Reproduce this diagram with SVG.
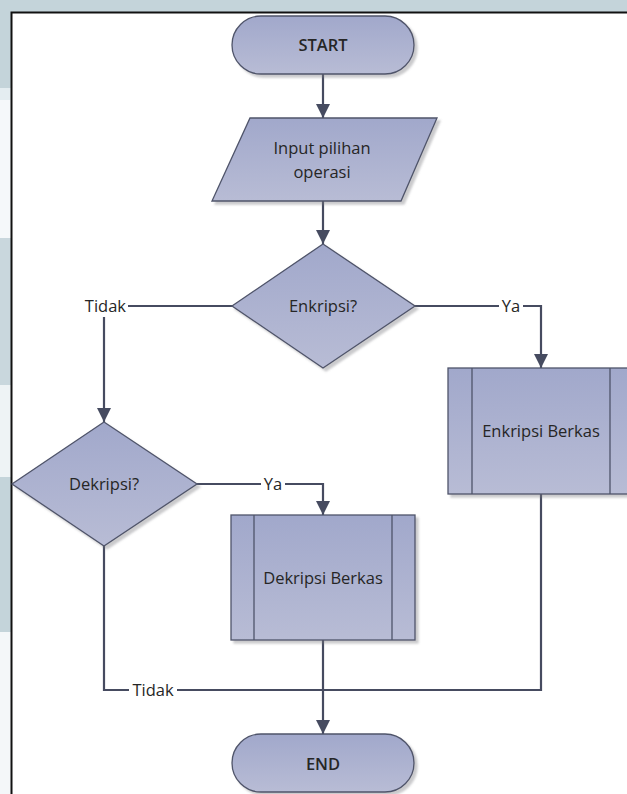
<svg xmlns="http://www.w3.org/2000/svg" width="627" height="794" viewBox="0 0 627 794">
  <defs>
    <linearGradient id="nodeFill" x1="0" y1="0" x2="0" y2="1">
      <stop offset="0" stop-color="#a1a8cb"/>
      <stop offset="1" stop-color="#b8bcd5"/>
    </linearGradient>
    <filter id="shadow" x="-10%" y="-10%" width="125%" height="130%">
      <feDropShadow dx="3" dy="3" stdDeviation="1.2" flood-color="#7a7a80" flood-opacity="0.4"/>
    </filter>
    <marker id="arrow" viewBox="0 0 14 14" refX="14" refY="7" markerWidth="14" markerHeight="14" markerUnits="userSpaceOnUse" orient="auto">
      <path d="M0,0 L14,7 L0,14 Z" fill="#464b60"/>
    </marker>
    <style>
      .node { fill: url(#nodeFill); stroke: #4f546a; stroke-width: 1.3; filter: url(#shadow); }
      .bar { stroke: #4f546a; stroke-width: 1.3; fill: none; }
      .label { font-family: "Open Sans", "Noto Sans", sans-serif; font-size: 16.5px; fill: #262626; text-anchor: middle; }
      .term { font-weight: 600; }
      .edge { fill: none; stroke: #464b60; stroke-width: 2.2; }
      .edgeLabel { font-family: "Open Sans", "Noto Sans", sans-serif; font-size: 16.5px; fill: #262626; }
    </style>
  </defs>

  <!-- window background -->
  <rect x="0" y="0" width="627" height="794" fill="#c4d4da"/>
  <rect x="0" y="88" width="11" height="12" fill="#e4edf1"/>
  <rect x="0" y="100" width="11" height="138" fill="#f5f8fa"/>
  <rect x="0" y="238" width="11" height="147" fill="#c9d7dd"/>
  <rect x="0" y="385" width="11" height="92" fill="#eef3f5"/>
  <rect x="0" y="632" width="11" height="162" fill="#f4f7f9"/>

  <!-- page -->
  <rect x="11" y="12" width="616" height="782" fill="#ffffff"/>
  <path d="M11.5,794 V12.5 H627" fill="none" stroke="#111" stroke-width="2"/>

  <!-- connectors -->
  <g id="connectors">
    <path class="edge" d="M323,74 V118" marker-end="url(#arrow)"/>
    <path class="edge" d="M323,201 V244" marker-end="url(#arrow)"/>
    <path class="edge" d="M415,306 H499"/>
    <path class="edge" d="M523,306 H541 V368" marker-end="url(#arrow)"/>
    <path class="edge" d="M232,306 H128"/>
    <path class="edge" d="M104,317 V422" marker-end="url(#arrow)"/>
    <path class="edge" d="M197,484 H261"/>
    <path class="edge" d="M285,484 H323 V515" marker-end="url(#arrow)"/>
    <path class="edge" d="M323,640 V734" marker-end="url(#arrow)"/>
    <path class="edge" d="M104,546 V690 H129"/>
    <path class="edge" d="M177,690 H541 V494"/>
    <text class="edgeLabel" x="126" y="312" text-anchor="end">Tidak</text>
    <text class="edgeLabel" x="511" y="312" text-anchor="middle">Ya</text>
    <text class="edgeLabel" x="273" y="490" text-anchor="middle">Ya</text>
    <text class="edgeLabel" x="153" y="696" text-anchor="middle">Tidak</text>
  </g>

  <g id="start">
    <rect class="node" x="232" y="16" width="182" height="58" rx="29"/>
    <text class="label term" x="323" y="51">START</text>
  </g>

  <g id="input">
    <polygon class="node" points="250,118 437,118 401,201 212,201"/>
    <text class="label" x="322" y="154">Input pilihan</text>
    <text class="label" x="322" y="178">operasi</text>
  </g>

  <g id="enkripsi-decision">
    <polygon class="node" points="323,244 415,306 323,368 232,306"/>
    <text class="label" x="323" y="312">Enkripsi?</text>
  </g>

  <g id="enkripsi-berkas">
    <rect class="node" x="448" y="368" width="186" height="126"/>
    <path class="bar" d="M472,368 V494 M610,368 V494"/>
    <text class="label" x="541" y="437">Enkripsi Berkas</text>
  </g>

  <g id="dekripsi-decision">
    <polygon class="node" points="104,422 197,484 104,546 12,484"/>
    <text class="label" x="104" y="490">Dekripsi?</text>
  </g>

  <g id="dekripsi-berkas">
    <rect class="node" x="231" y="515" width="184" height="125"/>
    <path class="bar" d="M254,515 V640 M392,515 V640"/>
    <text class="label" x="323" y="584">Dekripsi Berkas</text>
  </g>

  <g id="end">
    <rect class="node" x="232" y="734" width="182" height="58" rx="29"/>
    <text class="label term" x="323" y="770">END</text>
  </g>
</svg>
